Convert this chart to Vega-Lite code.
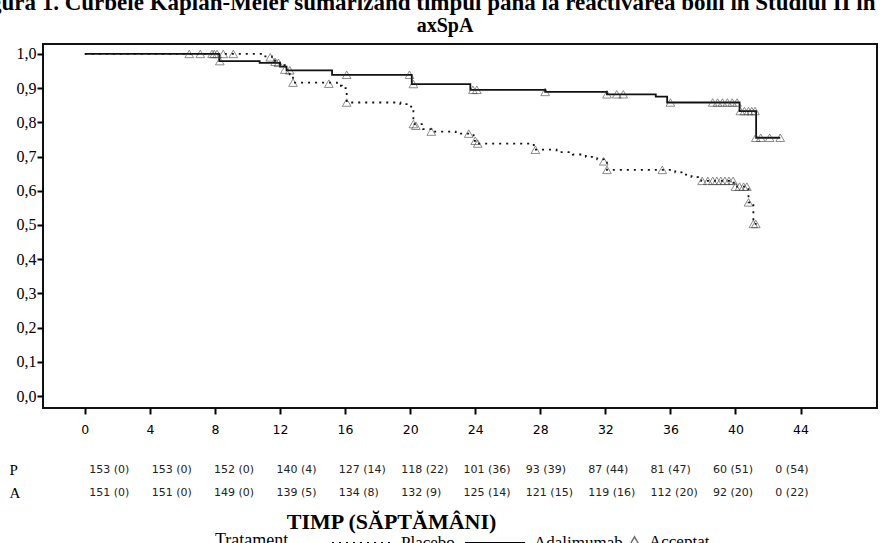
{
  "$schema": "https://vega.github.io/schema/vega-lite/v6.json",
  "padding": {"left": -31, "top": -8, "right": 0, "bottom": 0},
  "background": "white",
  "title": {
    "text": "Figura 1. Curbele Kaplan-Meier sumarizând timpul până la reactivarea bolii în Studiul II în",
    "font": "Liberation Serif",
    "fontSize": 23,
    "fontWeight": "bold",
    "color": "black",
    "anchor": "middle",
    "offset": 0,
    "dx": -21
  },
  "datasets": {
    "steps": [
      {"g": "Adalimumab", "t": 0, "s": 1.0},
      {"g": "Adalimumab", "t": 8.27, "s": 0.979},
      {"g": "Adalimumab", "t": 10.75, "s": 0.974},
      {"g": "Adalimumab", "t": 12.0, "s": 0.963},
      {"g": "Adalimumab", "t": 12.4, "s": 0.952},
      {"g": "Adalimumab", "t": 15.2, "s": 0.939},
      {"g": "Adalimumab", "t": 20.1, "s": 0.912},
      {"g": "Adalimumab", "t": 23.7, "s": 0.895},
      {"g": "Adalimumab", "t": 28.3, "s": 0.889},
      {"g": "Adalimumab", "t": 32.1, "s": 0.882},
      {"g": "Adalimumab", "t": 35.1, "s": 0.875},
      {"g": "Adalimumab", "t": 35.8, "s": 0.858},
      {"g": "Adalimumab", "t": 40.25, "s": 0.833},
      {"g": "Adalimumab", "t": 41.27, "s": 0.755},
      {"g": "Adalimumab", "t": 42.75, "s": 0.755},
      {"g": "Placebo", "t": 0, "s": 1.0},
      {"g": "Placebo", "t": 11.0, "s": 0.993},
      {"g": "Placebo", "t": 11.5, "s": 0.98},
      {"g": "Placebo", "t": 12.0, "s": 0.967},
      {"g": "Placebo", "t": 12.3, "s": 0.954},
      {"g": "Placebo", "t": 12.6, "s": 0.94},
      {"g": "Placebo", "t": 12.8, "s": 0.916},
      {"g": "Placebo", "t": 15.5, "s": 0.907},
      {"g": "Placebo", "t": 15.8, "s": 0.9},
      {"g": "Placebo", "t": 16.1, "s": 0.858},
      {"g": "Placebo", "t": 19.4, "s": 0.853},
      {"g": "Placebo", "t": 19.9, "s": 0.846},
      {"g": "Placebo", "t": 20.2, "s": 0.795},
      {"g": "Placebo", "t": 20.8, "s": 0.78},
      {"g": "Placebo", "t": 21.3, "s": 0.773},
      {"g": "Placebo", "t": 22.8, "s": 0.767},
      {"g": "Placebo", "t": 23.9, "s": 0.746},
      {"g": "Placebo", "t": 24.1, "s": 0.738},
      {"g": "Placebo", "t": 27.6, "s": 0.72},
      {"g": "Placebo", "t": 29.0, "s": 0.713},
      {"g": "Placebo", "t": 30.0, "s": 0.706},
      {"g": "Placebo", "t": 30.8, "s": 0.699},
      {"g": "Placebo", "t": 31.5, "s": 0.692},
      {"g": "Placebo", "t": 31.9, "s": 0.686},
      {"g": "Placebo", "t": 32.1, "s": 0.661},
      {"g": "Placebo", "t": 36.3, "s": 0.654},
      {"g": "Placebo", "t": 36.8, "s": 0.647},
      {"g": "Placebo", "t": 37.3, "s": 0.64},
      {"g": "Placebo", "t": 37.7, "s": 0.634},
      {"g": "Placebo", "t": 37.9, "s": 0.629},
      {"g": "Placebo", "t": 39.9, "s": 0.612},
      {"g": "Placebo", "t": 40.8, "s": 0.566},
      {"g": "Placebo", "t": 41.1, "s": 0.503},
      {"g": "Placebo", "t": 41.3, "s": 0.503}
    ],
    "cens": [
      {"g": "Placebo", "t": 6.42, "s": 1.0},
      {"g": "Placebo", "t": 7.1, "s": 1.0},
      {"g": "Placebo", "t": 7.82, "s": 1.0},
      {"g": "Placebo", "t": 8.13, "s": 1.0},
      {"g": "Placebo", "t": 8.51, "s": 1.0},
      {"g": "Placebo", "t": 9.13, "s": 1.0},
      {"g": "Placebo", "t": 11.4, "s": 0.99},
      {"g": "Placebo", "t": 11.7, "s": 0.977},
      {"g": "Placebo", "t": 12.3, "s": 0.954},
      {"g": "Placebo", "t": 12.8, "s": 0.916},
      {"g": "Placebo", "t": 15.0, "s": 0.913},
      {"g": "Placebo", "t": 16.1, "s": 0.858},
      {"g": "Placebo", "t": 20.2, "s": 0.795},
      {"g": "Placebo", "t": 20.35, "s": 0.79},
      {"g": "Placebo", "t": 21.3, "s": 0.773},
      {"g": "Placebo", "t": 23.6, "s": 0.767},
      {"g": "Placebo", "t": 24.0, "s": 0.746},
      {"g": "Placebo", "t": 24.15, "s": 0.738},
      {"g": "Placebo", "t": 27.7, "s": 0.72},
      {"g": "Placebo", "t": 31.9, "s": 0.686},
      {"g": "Placebo", "t": 32.1, "s": 0.661},
      {"g": "Placebo", "t": 35.5, "s": 0.661},
      {"g": "Placebo", "t": 37.95, "s": 0.629},
      {"g": "Placebo", "t": 38.3, "s": 0.629},
      {"g": "Placebo", "t": 38.6, "s": 0.629},
      {"g": "Placebo", "t": 38.85, "s": 0.629},
      {"g": "Placebo", "t": 39.1, "s": 0.629},
      {"g": "Placebo", "t": 39.35, "s": 0.629},
      {"g": "Placebo", "t": 39.6, "s": 0.629},
      {"g": "Placebo", "t": 39.85, "s": 0.629},
      {"g": "Placebo", "t": 40.0, "s": 0.612},
      {"g": "Placebo", "t": 40.25, "s": 0.612},
      {"g": "Placebo", "t": 40.5, "s": 0.612},
      {"g": "Placebo", "t": 40.7, "s": 0.612},
      {"g": "Placebo", "t": 40.8, "s": 0.566},
      {"g": "Placebo", "t": 41.1, "s": 0.503},
      {"g": "Placebo", "t": 41.25, "s": 0.503},
      {"g": "Adalimumab", "t": 7.96, "s": 1.0},
      {"g": "Adalimumab", "t": 8.3, "s": 0.979},
      {"g": "Adalimumab", "t": 11.9, "s": 0.974},
      {"g": "Adalimumab", "t": 12.6, "s": 0.952},
      {"g": "Adalimumab", "t": 16.1, "s": 0.939},
      {"g": "Adalimumab", "t": 19.96, "s": 0.939},
      {"g": "Adalimumab", "t": 20.2, "s": 0.912},
      {"g": "Adalimumab", "t": 23.86, "s": 0.895},
      {"g": "Adalimumab", "t": 24.1, "s": 0.895},
      {"g": "Adalimumab", "t": 28.3, "s": 0.889},
      {"g": "Adalimumab", "t": 32.1, "s": 0.882},
      {"g": "Adalimumab", "t": 32.7, "s": 0.882},
      {"g": "Adalimumab", "t": 33.1, "s": 0.882},
      {"g": "Adalimumab", "t": 36.0, "s": 0.858},
      {"g": "Adalimumab", "t": 38.6, "s": 0.858},
      {"g": "Adalimumab", "t": 38.9, "s": 0.858},
      {"g": "Adalimumab", "t": 39.2, "s": 0.858},
      {"g": "Adalimumab", "t": 39.5, "s": 0.858},
      {"g": "Adalimumab", "t": 39.8, "s": 0.858},
      {"g": "Adalimumab", "t": 40.1, "s": 0.858},
      {"g": "Adalimumab", "t": 40.3, "s": 0.833},
      {"g": "Adalimumab", "t": 40.55, "s": 0.833},
      {"g": "Adalimumab", "t": 40.8, "s": 0.833},
      {"g": "Adalimumab", "t": 41.0, "s": 0.833},
      {"g": "Adalimumab", "t": 41.2, "s": 0.833},
      {"g": "Adalimumab", "t": 41.25, "s": 0.755},
      {"g": "Adalimumab", "t": 41.55, "s": 0.755},
      {"g": "Adalimumab", "t": 42.1, "s": 0.755},
      {"g": "Adalimumab", "t": 42.75, "s": 0.755}
    ],
    "risk": [
      {"g": "P", "wk": 0, "txt": "153 (0)"},
      {"g": "P", "wk": 4, "txt": "153 (0)"},
      {"g": "P", "wk": 8, "txt": "152 (0)"},
      {"g": "P", "wk": 12, "txt": "140 (4)"},
      {"g": "P", "wk": 16, "txt": "127 (14)"},
      {"g": "P", "wk": 20, "txt": "118 (22)"},
      {"g": "P", "wk": 24, "txt": "101 (36)"},
      {"g": "P", "wk": 28, "txt": "93 (39)"},
      {"g": "P", "wk": 32, "txt": "87 (44)"},
      {"g": "P", "wk": 36, "txt": "81 (47)"},
      {"g": "P", "wk": 40, "txt": "60 (51)"},
      {"g": "P", "wk": 44, "txt": "0 (54)"},
      {"g": "A", "wk": 0, "txt": "151 (0)"},
      {"g": "A", "wk": 4, "txt": "151 (0)"},
      {"g": "A", "wk": 8, "txt": "149 (0)"},
      {"g": "A", "wk": 12, "txt": "139 (5)"},
      {"g": "A", "wk": 16, "txt": "134 (8)"},
      {"g": "A", "wk": 20, "txt": "132 (9)"},
      {"g": "A", "wk": 24, "txt": "125 (14)"},
      {"g": "A", "wk": 28, "txt": "121 (15)"},
      {"g": "A", "wk": 32, "txt": "119 (16)"},
      {"g": "A", "wk": 36, "txt": "112 (20)"},
      {"g": "A", "wk": 40, "txt": "92 (20)"},
      {"g": "A", "wk": 44, "txt": "0 (22)"}
    ]
  },
  "config": {
    "axis": {"grid": false, "domainColor": "black", "tickColor": "black", "labelColor": "black", "titleColor": "black"},
    "legend": {"labelColor": "black", "titleColor": "black"}
  },
  "resolve": {"scale": {"x": "independent", "y": "independent"}},
  "spacing": 21,
  "vconcat": [
    {
      "width": 834,
      "height": 364,
      "title": {"text": "axSpA", "font": "Liberation Serif", "fontSize": 20, "fontWeight": "bold", "color": "black", "anchor": "middle", "offset": 8, "dx": -15},
      "view": {"stroke": "#111", "strokeWidth": 2},
      "layer": [
        {
          "data": {"name": "steps"},
          "mark": {"type": "line", "interpolate": "step-after", "color": "#111", "strokeWidth": 1.8},
          "encoding": {
            "x": {"field": "t", "type": "quantitative", "scale": {"domain": [-2.57, 48.7], "nice": false, "zero": false},
              "axis": {"title": null, "values": [0, 4, 8, 12, 16, 20, 24, 28, 32, 36, 40, 44], "tickCount": 30, "labelFont": "DejaVu Sans", "labelFontSize": 12.5, "tickSize": 6, "tickWidth": 2, "domain": false, "labelPadding": 9}},
            "y": {"field": "s", "type": "quantitative", "scale": {"domain": [-0.035, 1.029], "nice": false, "zero": false},
              "axis": {"title": null, "values": [0, 0.1, 0.2, 0.3, 0.4, 0.5, 0.6, 0.7, 0.8, 0.9, 1.0], "tickCount": 30, "labelOverlap": false, "labelExpr": "replace(format(datum.value, '.1f'), '.', ',')", "labelFont": "Liberation Serif", "labelFontSize": 16, "tickSize": 6, "tickWidth": 2, "domain": false, "labelPadding": 1}},
            "strokeDash": {"field": "g", "type": "nominal", "scale": {"domain": ["Placebo", "Adalimumab"], "range": [[2, 5], [1, 0]]},
              "legend": {"title": "Tratament", "orient": "none", "legendX": 172, "legendY": 468, "direction": "horizontal", "titleOrient": "left", "titleAnchor": "middle", "titleBaseline": "top", "titlePadding": 42, "titleFont": "Liberation Serif", "titleFontSize": 18, "titleFontWeight": "normal", "labelFont": "Liberation Serif", "labelFontSize": 17, "labelOffset": 8, "symbolStrokeColor": "black", "symbolStrokeWidth": 2, "symbolSize": 3600, "columnPadding": 6}}
          }
        },
        {
          "data": {"name": "cens"},
          "mark": {"type": "point", "filled": false, "stroke": "#333", "strokeWidth": 0.8, "size": 75},
          "encoding": {
            "x": {"field": "t", "type": "quantitative"},
            "y": {"field": "s", "type": "quantitative"},
            "shape": {"datum": "Acceptat", "scale": {"range": ["triangle-up"]},
              "legend": {"title": null, "orient": "none", "legendX": 583, "legendY": 489, "direction": "horizontal", "labelFont": "Liberation Serif", "labelFontSize": 17, "labelOffset": 6, "symbolStrokeColor": "#333", "symbolSize": 120, "symbolFillColor": "white"}}
          }
        }
      ]
    },
    {
      "width": 834,
      "height": 46,
      "view": {"stroke": null},
      "data": {"name": "risk"},
      "mark": {"type": "text", "align": "left", "baseline": "middle", "font": "DejaVu Sans", "fontSize": 11, "color": "#222"},
      "encoding": {
        "x": {"field": "wk", "type": "quantitative", "scale": {"domain": [-2.97, 50.52], "nice": false, "zero": false},
          "axis": {"title": "TIMP (SĂPTĂMÂNI)", "labels": false, "ticks": false, "domain": false, "titleFont": "Liberation Serif", "titleFontSize": 22, "titleFontWeight": "bold", "titleX": 348, "titleAlign": "center", "titlePadding": 7}},
        "y": {"field": "g", "type": "nominal", "scale": {"domain": ["P", "A"], "type": "point", "padding": 0.5},
          "axis": {"title": null, "ticks": false, "domain": false, "labelAlign": "left", "labelPadding": 34, "labelFont": "Liberation Serif", "labelFontSize": 15}},
        "text": {"field": "txt"}
      }
    }
  ]
}
